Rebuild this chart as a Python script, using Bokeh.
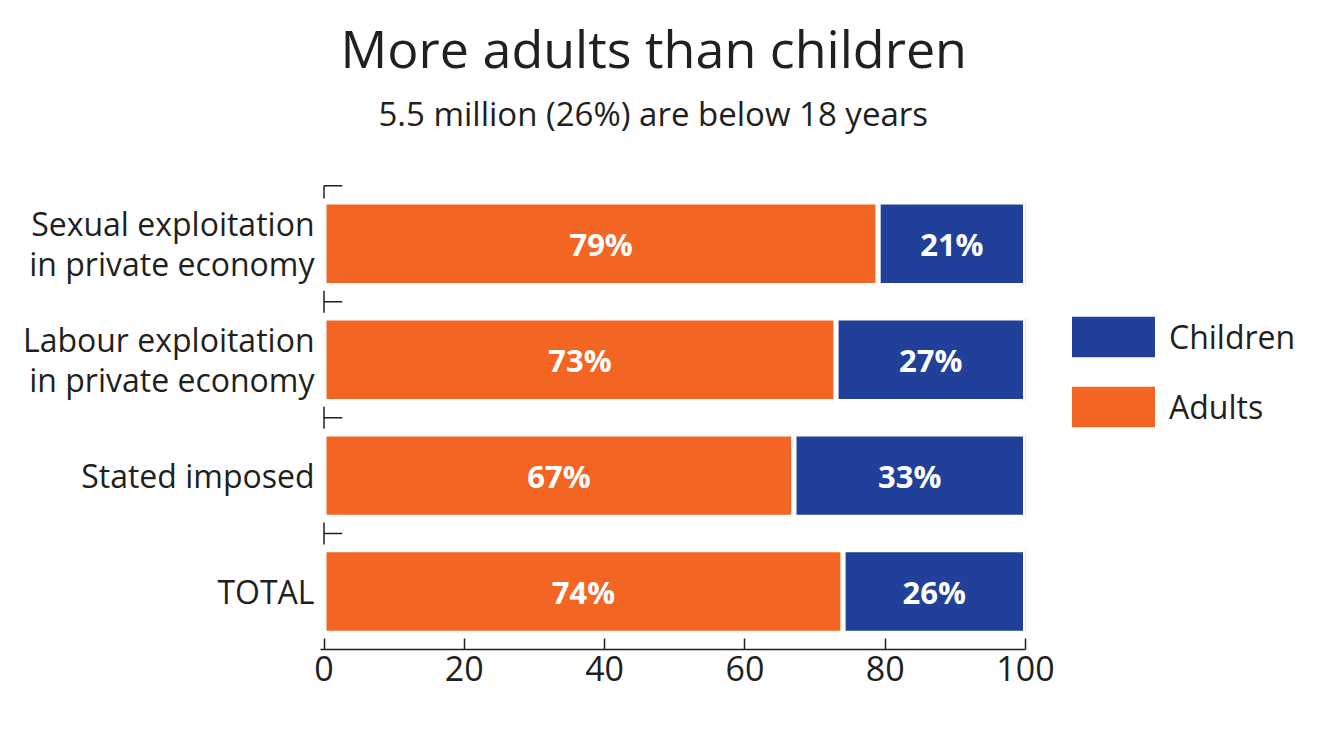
from bokeh.plotting import figure
from bokeh.models import (Range1d, FixedTicker, Legend, LegendItem, Title,
                          ColumnDataSource)
from bokeh.core.properties import value
from bokeh.embed import file_html
from bokeh.resources import INLINE

# ---- data ----
categories = ["Sexual exploitation\nin private economy",
              "Labour exploitation\nin private economy",
              "Stated imposed",
              "TOTAL"]
adults = [79, 73, 67, 74]
children = [21, 27, 33, 26]
x_ticks = [0, 20, 40, 60, 80, 100]
title_text = "More adults than children"
subtitle_text = "5.5 million (26%) are below 18 years"

FONT = "Open Sans"
ORANGE = "#F26522"
BLUE = "#21409A"
INK = "#231F20"

n = len(categories)
ys = [n - i - 0.5 for i in range(n)]
src = ColumnDataSource(dict(
    y=ys, adults=adults, children=children,
    ax=[a / 2 for a in adults],
    cx=[a + c / 2 for a, c in zip(adults, children)],
    alab=[f"{a}%" for a in adults],
    clab=[f"{c}%" for c in children],
))

p = figure(frame_width=705, frame_height=466, output_backend="svg",
           toolbar_location=None,
           x_range=Range1d(-0.5, 100), y_range=Range1d(0, n + 0.02),
           min_border_left=320, min_border_right=285,
           min_border_top=183, min_border_bottom=72)
p.outline_line_color = None
p.xgrid.visible = False
p.ygrid.visible = False
p.background_fill_color = "white"
p.border_fill_color = "white"

rs = p.hbar_stack(["adults", "children"], y="y", height=0.72,
                  color=[ORANGE, BLUE], line_color="white", line_width=5,
                  source=src)

p.text(x="ax", y="y", text="alab", source=src, text_color="white",
       text_font=value(FONT), text_font_style="bold", text_font_size="31px",
       text_align="center", text_baseline="middle")
p.text(x="cx", y="y", text="clab", source=src, text_color="white",
       text_font=value(FONT), text_font_style="bold", text_font_size="31px",
       text_align="center", text_baseline="middle")

# left boundary marks (between categories)
bounds = list(range(1, n + 1))
half = 0.095
seg_y0 = [b - (0.11 if b == n else half) for b in bounds]
seg_y1 = [b if b == n else b + half for b in bounds]
p.segment(x0=[0] * len(bounds), y0=seg_y0, x1=[0] * len(bounds), y1=seg_y1,
          line_color=INK, line_width=1.5)
p.segment(x0=[0] * len(bounds), y0=bounds, x1=[2.6] * len(bounds), y1=bounds,
          line_color=INK, line_width=1.5)

# x axis
xa = p.xaxis[0]
xa.ticker = FixedTicker(ticks=x_ticks, minor_ticks=[])
xa.axis_line_color = INK
xa.axis_line_width = 1.5
xa.major_tick_line_color = INK
xa.major_tick_line_width = 1.5
xa.major_tick_in = 11
xa.major_tick_out = 0
xa.major_label_text_font = FONT
xa.major_label_text_font_size = "34px"
xa.major_label_text_color = INK
xa.major_label_standoff = 6

# y axis (labels only)
ya = p.yaxis[0]
ya.ticker = FixedTicker(ticks=ys, minor_ticks=[])
ya.major_label_overrides = {y: c for y, c in zip(ys, categories)}
ya.axis_line_color = None
ya.major_tick_line_color = None
ya.minor_tick_line_color = None
ya.major_label_text_font = FONT
ya.major_label_text_font_size = "32px"
ya.major_label_text_line_height = 0.94
ya.major_label_text_color = INK
ya.major_label_standoff = 0

# titles (a blank spacer sits between the subtitle and the plot)
p.add_layout(Title(text=" ", text_font=FONT, text_font_size="1px",
                   standoff=43), "above")
p.add_layout(Title(text=subtitle_text, text_font=FONT, text_font_size="33px",
                   text_font_style="normal", text_color=INK, align="left",
                   offset=58, standoff=4), "above")
p.add_layout(Title(text=title_text, text_font=FONT, text_font_size="52px",
                   text_font_style="normal", text_color=INK, align="left",
                   offset=20, standoff=7), "above")

legend = Legend(items=[LegendItem(label="Children", renderers=[rs[1]]),
                       LegendItem(label="Adults", renderers=[rs[0]])],
                location=(33, 214), orientation="vertical",
                glyph_width=110, glyph_height=57, spacing=13, padding=0,
                label_standoff=1, label_text_font=FONT,
                label_text_font_size="32px", label_text_color=INK,
                border_line_alpha=0, background_fill_alpha=0)
p.add_layout(legend, "right")

open("out.html", "w").write(file_html(p, INLINE))
